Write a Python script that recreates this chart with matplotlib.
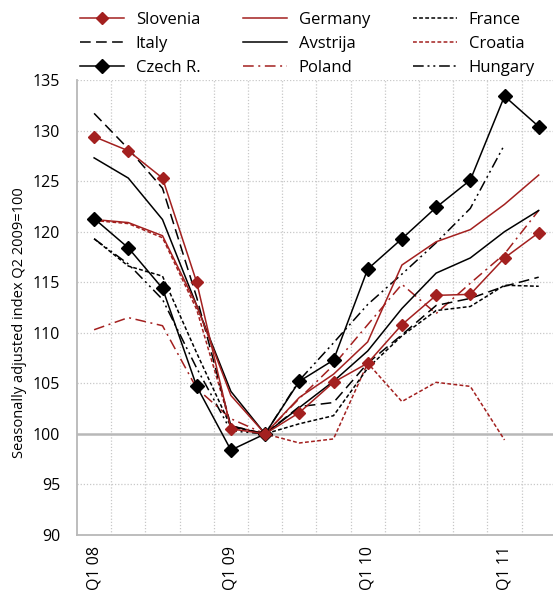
import matplotlib
matplotlib.use("Agg")
import matplotlib.pyplot as plt
import numpy as np

nan = np.nan
quarters = ["Q1 08", "Q2 08", "Q3 08", "Q4 08", "Q1 09", "Q2 09", "Q3 09", "Q4 09",
            "Q1 10", "Q2 10", "Q3 10", "Q4 10", "Q1 11", "Q2 11"]
tick_labels = ["Q1 08", "", "", "", "Q1 09", "", "", "", "Q1 10", "", "", "", "Q1 11", ""]

slovenia = [129.4, 128.0, 125.3, 115.0, 100.5, 100.0, 102.1, 105.1, 107.0, 110.8, 113.7, 113.8, 117.4, 119.9]
germany  = [121.2, 120.9, 119.6, 112.7, 103.8, 100.0, 103.6, 105.9, 109.1, 116.7, 119.0, 120.2, 122.7, 125.6]
france   = [119.3, 116.6, 115.6, 108.0, 100.7, 100.0, 101.0, 101.8, 106.5, 109.7, 112.2, 112.6, 114.7, 114.6]
italy    = [131.7, 128.2, 124.3, 113.5, 100.8, 100.0, 102.7, 103.1, 107.0, 109.8, 112.7, 113.4, 114.6, 115.5]
avstrija = [127.3, 125.3, 121.2, 112.7, 104.2, 100.0, 102.6, 105.2, 108.2, 112.4, 115.9, 117.4, 120.0, 122.1]
croatia  = [121.1, 120.8, 119.4, 112.3, 100.8, 100.0, 99.1, 99.5, 107.0, 103.2, 105.1, 104.7, 99.4, nan]
czech    = [121.3, 118.4, 114.4, 104.7, 98.4, 100.0, 105.2, 107.3, 116.3, 119.3, 122.4, 125.1, 133.4, 130.4]
poland   = [110.3, 111.5, 110.7, 104.5, 101.5, 100.0, 103.5, 106.8, 110.8, 114.8, 111.9, 114.9, 117.8, 122.1]
hungary  = [119.3, 116.8, 113.3, 106.5, 100.3, 100.0, 105.3, 109.0, 112.8, 115.8, 118.9, 122.3, 128.6, nan]

RED = "#a3201f"
BLK = "#000000"
GRID = "#c8c8c8"

plt.rcParams['font.family'] = ['Open Sans', 'DejaVu Sans']

fig = plt.figure(figsize=(5.53, 5.93), dpi=100)
W, H = 553, 593
ax = fig.add_axes([77 / W, 1 - 535 / H, 476 / W, 455 / H])

x = np.arange(len(quarters))

lw = 1.1
h_czech, = ax.plot(x, czech, color=BLK, lw=lw, marker='D', ms=7.5, zorder=10, label="Czech R.")
h_hun, = ax.plot(x, hungary, color=BLK, lw=lw, dashes=(7, 2.5, 1.3, 2.5, 1.3, 2.5), zorder=5, label="Hungary")
h_pol, = ax.plot(x, poland, color=RED, lw=lw, dashes=(7, 3, 1.3, 3), zorder=5, label="Poland")
h_cro, = ax.plot(x, croatia, color=RED, lw=lw, dashes=(2.5, 1.5), zorder=5, label="Croatia")
h_fra, = ax.plot(x, france, color=BLK, lw=lw, dashes=(2.5, 1.5), zorder=5, label="France")
h_ita, = ax.plot(x, italy, color=BLK, lw=lw, dashes=(7, 3.5), zorder=5, label="Italy")
h_avs, = ax.plot(x, avstrija, color=BLK, lw=lw, zorder=6, label="Avstrija")
h_ger, = ax.plot(x, germany, color=RED, lw=lw, zorder=6, label="Germany")
h_slo, = ax.plot(x, slovenia, color=RED, lw=lw, marker='D', ms=6.5, zorder=11, label="Slovenia")

ax.set_xlim(-0.5, -0.5 + 476 / 34.2)
ax.set_ylim(90, 135)
ax.set_yticks(np.arange(90, 136, 5))
ax.set_xticks(x)
ax.set_xticklabels(tick_labels, rotation=90, fontsize=11.5)
ax.tick_params(axis='both', length=0)
ax.tick_params(axis='y', pad=12, labelsize=11.5)
ax.tick_params(axis='x', pad=8)

# grid
for xv in np.arange(0.5, len(quarters), 1.0):
    ax.axvline(xv, color=GRID, lw=0.9, ls=(0, (1, 1.5)), zorder=0)
for yv in np.arange(95, 136, 5):
    if yv != 100:
        ax.axhline(yv, color=GRID, lw=0.9, ls=(0, (1, 1.5)), zorder=0)
ax.axhline(100, color="#b8b8b8", lw=1.8, zorder=1)

for s in ['top', 'right']:
    ax.spines[s].set_visible(False)
for s in ['left', 'bottom']:
    ax.spines[s].set_color("#b8b8b8")
    ax.spines[s].set_linewidth(1.3)

ax.set_ylabel("Seasonally adjusted index Q2 2009=100", fontsize=10.5)
ax.yaxis.set_label_coords(-0.105, 0.5 - 15 / 455)

handles = [h_slo, h_ita, h_czech, h_ger, h_avs, h_pol, h_fra, h_cro, h_hun]
fig.legend(handles=handles, labels=[h.get_label() for h in handles], ncol=3,
           loc='upper left', bbox_to_anchor=(80 / W, 1 - 12 / H), frameon=False,
           fontsize=12, handlelength=2.65, handletextpad=0.7, columnspacing=2.55,
           labelspacing=0.48, borderpad=0, borderaxespad=0)

fig.savefig("out.png", dpi=100)
